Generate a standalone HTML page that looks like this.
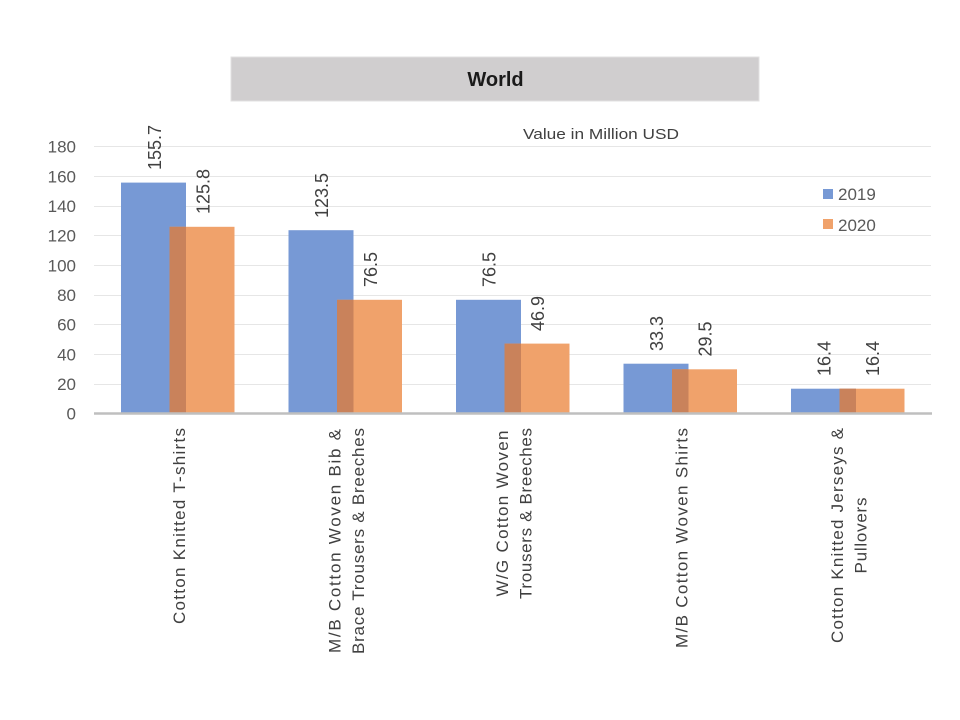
<!DOCTYPE html>
<html>
<head>
<meta charset="utf-8">
<style>
html,body{margin:0;padding:0;background:#fff;}
svg{display:block;}
text{font-family:"Liberation Sans",sans-serif;}
</style>
</head>
<body>
<svg width="960" height="720" viewBox="0 0 960 720" xmlns="http://www.w3.org/2000/svg">
<rect x="0" y="0" width="960" height="720" fill="#ffffff"/>
<!-- title box -->
<rect x="231" y="57" width="528" height="44" fill="#d0cecf" stroke="#e2e0e1" stroke-width="1"/>
<text x="495.5" y="86" font-size="20" font-weight="bold" fill="#1a1a1a" text-anchor="middle">World</text>
<text x="523" y="139" font-size="14.5" fill="#404040" textLength="156" lengthAdjust="spacingAndGlyphs">Value in Million USD</text>

<!-- gridlines -->
<g stroke="#e6e6e6" stroke-width="1">
<line x1="94" x2="931" y1="146.5" y2="146.5"/>
<line x1="94" x2="931" y1="176.5" y2="176.5"/>
<line x1="94" x2="931" y1="206.5" y2="206.5"/>
<line x1="94" x2="931" y1="235.5" y2="235.5"/>
<line x1="94" x2="931" y1="265.5" y2="265.5"/>
<line x1="94" x2="931" y1="295.5" y2="295.5"/>
<line x1="94" x2="931" y1="324.5" y2="324.5"/>
<line x1="94" x2="931" y1="354.5" y2="354.5"/>
<line x1="94" x2="931" y1="384.5" y2="384.5"/>
</g>

<!-- y tick labels -->
<g font-size="17" fill="#595959" text-anchor="end">
<text x="76" y="152.5">180</text>
<text x="76" y="182.5">160</text>
<text x="76" y="212">140</text>
<text x="76" y="241.5">120</text>
<text x="76" y="271.5">100</text>
<text x="76" y="301">80</text>
<text x="76" y="330.5">60</text>
<text x="76" y="360.5">40</text>
<text x="76" y="390">20</text>
<text x="76" y="419.5">0</text>
</g>

<!-- bars -->
<!-- cat1 -->
<rect x="121" y="182.6" width="65" height="230.9" fill="#7799d5"/>
<rect x="169.5" y="226.8" width="65" height="186.7" fill="#f0a26b"/>
<rect x="169.5" y="226.8" width="16.5" height="186.7" fill="#c9825b"/>
<!-- cat2 -->
<rect x="288.5" y="230.2" width="65" height="183.3" fill="#7799d5"/>
<rect x="337" y="299.8" width="65" height="113.7" fill="#f0a26b"/>
<rect x="337" y="299.8" width="16.5" height="113.7" fill="#c9825b"/>
<!-- cat3 -->
<rect x="456" y="299.8" width="65" height="113.7" fill="#7799d5"/>
<rect x="504.5" y="343.6" width="65" height="69.9" fill="#f0a26b"/>
<rect x="504.5" y="343.6" width="16.5" height="69.9" fill="#c9825b"/>
<!-- cat4 -->
<rect x="623.5" y="363.7" width="65" height="49.8" fill="#7799d5"/>
<rect x="672" y="369.3" width="65" height="44.2" fill="#f0a26b"/>
<rect x="672" y="369.3" width="16.5" height="44.2" fill="#c9825b"/>
<!-- cat5 -->
<rect x="791" y="388.7" width="65" height="24.8" fill="#7799d5"/>
<rect x="839.5" y="388.7" width="65" height="24.8" fill="#f0a26b"/>
<rect x="839.5" y="388.7" width="16.5" height="24.8" fill="#c9825b"/>

<!-- axis -->
<line x1="94" x2="932" y1="413.5" y2="413.5" stroke="#bfbfbf" stroke-width="2.5"/>

<!-- data labels -->
<g font-size="18" fill="#404040">
<text transform="translate(154.5,170) rotate(-90)" x="0" y="6.5">155.7</text>
<text transform="translate(203,214) rotate(-90)" x="0" y="6.5">125.8</text>
<text transform="translate(321.5,218) rotate(-90)" x="0" y="6.5">123.5</text>
<text transform="translate(370.5,287) rotate(-90)" x="0" y="6.5">76.5</text>
<text transform="translate(489,287) rotate(-90)" x="0" y="6.5">76.5</text>
<text transform="translate(537.5,331) rotate(-90)" x="0" y="6.5">46.9</text>
<text transform="translate(656.5,351) rotate(-90)" x="0" y="6.5">33.3</text>
<text transform="translate(705,356.5) rotate(-90)" x="0" y="6.5">29.5</text>
<text transform="translate(824,376) rotate(-90)" x="0" y="6.5">16.4</text>
<text transform="translate(872.5,376) rotate(-90)" x="0" y="6.5">16.4</text>
</g>

<!-- category labels -->
<g font-size="17" fill="#404040" text-anchor="middle">
<g transform="translate(177.5,526) rotate(-90)">
<text x="0" y="7.5" textLength="196" lengthAdjust="spacing">Cotton Knitted T-shirts</text>
</g>
<g transform="translate(345,541) rotate(-90)">
<text x="0" y="-4.5" textLength="224" lengthAdjust="spacing">M/B Cotton Woven Bib &amp;</text>
<text x="0" y="19" textLength="226" lengthAdjust="spacing">Brace Trousers &amp; Breeches</text>
</g>
<g transform="translate(512.5,513.5) rotate(-90)">
<text x="0" y="-4.5" textLength="166" lengthAdjust="spacing">W/G Cotton Woven</text>
<text x="0" y="19" textLength="171" lengthAdjust="spacing">Trousers &amp; Breeches</text>
</g>
<g transform="translate(680,538) rotate(-90)">
<text x="0" y="7.5" textLength="220" lengthAdjust="spacing">M/B Cotton Woven Shirts</text>
</g>
<g transform="translate(847.5,535.5) rotate(-90)">
<text x="0" y="-4.5" textLength="215" lengthAdjust="spacing">Cotton Knitted Jerseys &amp;</text>
<text x="0" y="19" textLength="76" lengthAdjust="spacing">Pullovers</text>
</g>
</g>

<!-- legend -->
<rect x="823" y="189" width="10" height="10" fill="#7799d5"/>
<text x="838" y="200" font-size="17" fill="#595959">2019</text>
<rect x="823" y="219" width="10" height="10" fill="#f0a26b"/>
<text x="838" y="231" font-size="17" fill="#595959">2020</text>
</svg>
</body>
</html>
